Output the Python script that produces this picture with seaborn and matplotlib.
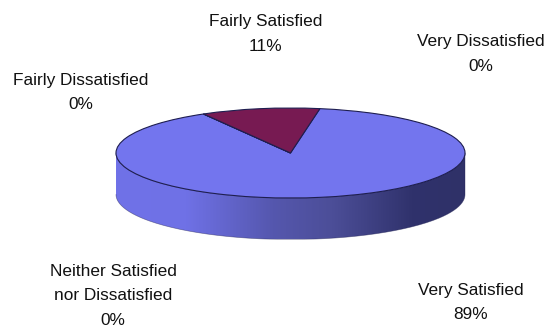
import numpy as np
import matplotlib
matplotlib.use("Agg")
import matplotlib.pyplot as plt
from matplotlib.colors import LinearSegmentedColormap
from matplotlib.patches import PathPatch
from matplotlib.path import Path
import seaborn as sns

# Survey shares, clockwise from the top of the disc
categories = ["Very Dissatisfied", "Very Satisfied",
              "Neither Satisfied\nnor Dissatisfied",
              "Fairly Dissatisfied", "Fairly Satisfied"]
shares = [0, 89, 0, 0, 11]
colors = ["#FFFFCC", "#7375EE", "#CCFFFF", "#660066", "#771A52"]

# Label centres in pixels from the top left corner
label_x = [481, 471, 113, 81, 265.5]
label_y = [54, 302.5, 296, 92.5, 34]

sns.set_theme(style="white")
plt.rcParams["font.family"] = ["Liberation Sans", "DejaVu Sans"]

W, H = 546, 329
CX, CY = 290.5, 153.0
RX, RY = 174.5, 45.0
DEPTH = 41.5 / RY
EDGE = "#1E1E50"

fig = plt.figure(figsize=(W / 100, H / 100), dpi=100)
ax = fig.add_axes([0, 0, 1, 1])

# Cylinder wall under the disc, shaded from left to right
t = np.linspace(np.pi, 2 * np.pi, 200)
wall_x = np.concatenate([np.cos(t), np.cos(t[::-1])])
wall_y = np.concatenate([np.sin(t) - DEPTH, np.sin(t[::-1])])
wall_path = Path(np.column_stack([wall_x, wall_y]))
shade = LinearSegmentedColormap.from_list(
    "wall", [(0, "#7072E8"), (0.2, "#6F71E6"), (0.45, "#5557AE"),
             (0.62, "#4C4E98"), (0.85, "#30326C"), (1, "#2F3168")])
grad = ax.imshow(np.linspace(0, 1, 256)[None, :], cmap=shade, aspect="auto",
                 extent=(-1, 1, -1 - DEPTH, 0), zorder=1)
grad.set_clip_path(PathPatch(wall_path, transform=ax.transData))
ax.plot(wall_x, wall_y, color=EDGE, lw=0.5, alpha=0.5, zorder=2)

# Flat top of the disc, squashed into an ellipse by the axis limits
ax.pie(shares, colors=colors, startangle=80.3, counterclock=False, radius=1,
       frame=False, wedgeprops=dict(edgecolor=EDGE, linewidth=0.8, zorder=3))
ax.set_aspect("auto")
ax.set_xlim(-CX / RX, (W - CX) / RX)
ax.set_ylim(-(H - CY) / RY, CY / RY)
ax.axis("off")

for name, value, x, y in zip(categories, shares, label_x, label_y):
    fig.text(x / W, 1 - y / H, f"{name}\n{value}%", ha="center", va="center",
             fontsize=12.4, color="#111111", linespacing=1.8)

fig.savefig("out.png", dpi=100, facecolor="white")
